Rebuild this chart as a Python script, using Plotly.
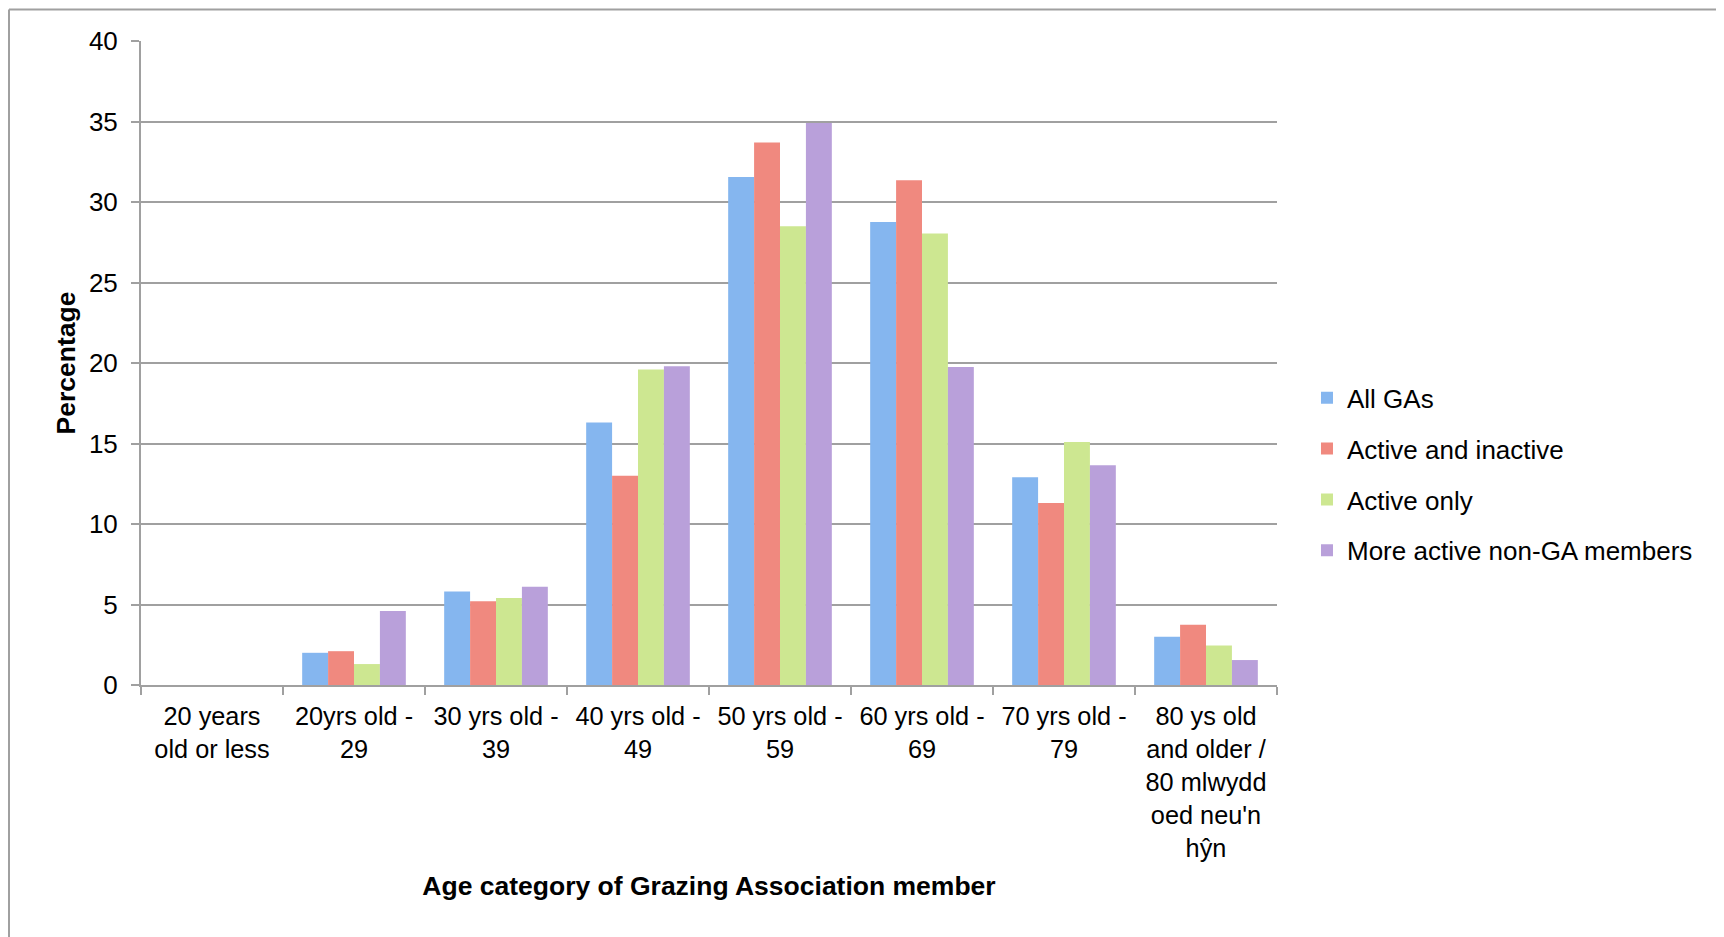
import plotly.graph_objects as go

categories = [
    "20 years<br>old or less",
    "20yrs old -<br>29",
    "30 yrs old -<br>39",
    "40 yrs old -<br>49",
    "50 yrs old -<br>59",
    "60 yrs old -<br>69",
    "70 yrs old -<br>79",
    "80 ys old<br>and older /<br>80 mlwydd<br>oed neu'n<br>hŷn",
]

all_gas = [0, 2.0, 5.8, 16.3, 31.55, 28.75, 12.9, 3.0]
active_and_inactive = [0, 2.1, 5.2, 13.0, 33.7, 31.35, 11.3, 3.75]
active_only = [0, 1.3, 5.4, 19.6, 28.5, 28.05, 15.1, 2.45]
more_active_non_ga = [0, 4.6, 6.1, 19.8, 34.9, 19.75, 13.65, 1.55]

series_names = ["All GAs", "Active and inactive", "Active only", "More active non-GA members"]
series_values = [all_gas, active_and_inactive, active_only, more_active_non_ga]
series_colors = ["#85B6EF", "#F0897F", "#CDE791", "#B9A0DA"]

y_ticks = [0, 5, 10, 15, 20, 25, 30, 35, 40]

FONT = "Liberation Sans, Arial, Helvetica, sans-serif"
GRID = "#A0A0A0"
FS = 26

fig = go.Figure()
for name, vals, col in zip(series_names, series_values, series_colors):
    fig.add_trace(go.Bar(
        x=categories, y=vals, name=name, legendgroup=name,
        marker=dict(color=col, line=dict(width=0)),
    ))

fig.update_layout(
    width=1716, height=929,
    margin=dict(l=133, r=447, t=33, b=252, autoexpand=False),
    paper_bgcolor="white", plot_bgcolor="white",
    font=dict(family=FONT, size=FS, color="black"),
    barmode="group", bargap=0.27, bargroupgap=0,
    showlegend=True,
    legend=dict(
        x=1.0264, xanchor="left", y=0.327, yanchor="middle",
        font=dict(family=FONT, size=FS, color="black"),
        traceorder="grouped", tracegroupgap=14,
        itemwidth=30, bgcolor="rgba(0,0,0,0)",
    ),
    xaxis=dict(
        type="category",
        tickson="boundaries", ticks="outside", ticklen=8, tickwidth=2, tickcolor=GRID,
        showline=True, linecolor=GRID, linewidth=2,
        showgrid=False, zeroline=False,
        tickfont=dict(family=FONT, size=25.3, color="black"),
        ticklabelstandoff=8,
        title=dict(text="<b>Age category of Grazing Association member</b>",
                   font=dict(family=FONT, size=26.5, color="black"), standoff=16),
        automargin=False,
    ),
    yaxis=dict(
        range=[0, 40], tickvals=y_ticks, ticktext=[str(v) for v in y_ticks],
        ticks="outside", ticklen=8, tickwidth=2, tickcolor=GRID,
        showline=True, linecolor=GRID, linewidth=2,
        showgrid=True, gridcolor=GRID, gridwidth=1.6,
        zeroline=False,
        tickfont=dict(family=FONT, size=FS, color="black"),
        ticklabelstandoff=8,
        title=dict(text="<b>Percentage</b>",
                   font=dict(family=FONT, size=26.5, color="black"), standoff=6),
        automargin=False,
    ),
    shapes=[
        dict(type="line", xref="paper", yref="paper", x0=-0.1162, x1=1.6, y0=1.0491, y1=1.0491,
             line=dict(color="#A0A0A0", width=2)),
        dict(type="line", xref="paper", yref="paper", x0=-0.1162, x1=-0.1162, y0=1.0491, y1=-0.6,
             line=dict(color="#A0A0A0", width=2)),
    ],
)

fig.write_html("out.html")
